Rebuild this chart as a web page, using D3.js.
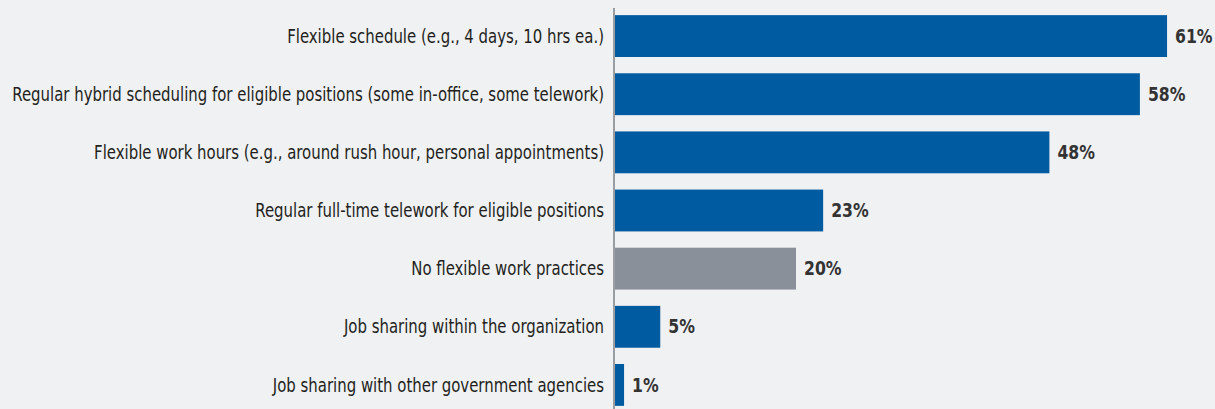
<!DOCTYPE html>
<html>
<head>
<meta charset="utf-8">
<script src="https://cdn.jsdelivr.net/npm/d3@7"></script>
<style>
  html, body { margin: 0; padding: 0; background: #f0f1f3; }
  svg { display: block; }
  .cat { font-family: "DejaVu Sans Condensed", "Liberation Sans Narrow", sans-serif; font-size: 19px; fill: #231f20; }
  .val { font-family: "DejaVu Sans Condensed", "Liberation Sans Narrow", sans-serif; font-size: 19px; font-weight: bold; fill: #333; }
</style>
</head>
<body>
<div id="chart"></div>
<script>
var categories = [
  "Flexible schedule (e.g., 4 days, 10 hrs ea.)",
  "Regular hybrid scheduling for eligible positions (some in-office, some telework)",
  "Flexible work hours (e.g., around rush hour, personal appointments)",
  "Regular full-time telework for eligible positions",
  "No flexible work practices",
  "Job sharing within the organization",
  "Job sharing with other government agencies"
];
var percents = [61, 58, 48, 23, 20, 5, 1];
var colors = ["#005ba1", "#005ba1", "#005ba1", "#005ba1", "#8a9099", "#005ba1", "#005ba1"];

var W = 1215, H = 409;
var axisX = 615;

var data = categories.map(function(c, i) {
  return {cat: c, pct: percents[i], color: colors[i]};
});

var x = d3.scaleLinear()
    .domain([0, 100])
    .range([axisX, axisX + 905]);

var y = d3.scaleBand()
    .domain(categories)
    .range([7, 414])
    .paddingInner(0.28)
    .paddingOuter(0.14);

var svg = d3.select("#chart").append("svg")
    .attr("width", W)
    .attr("height", H);

svg.append("rect")
    .attr("width", W).attr("height", H)
    .attr("fill", "#f0f1f3");

// bars
svg.selectAll(".bar")
    .data(data)
    .enter().append("rect")
    .attr("class", "bar")
    .attr("x", x(0))
    .attr("y", function(d) { return y(d.cat); })
    .attr("width", function(d) { return x(d.pct) - x(0); })
    .attr("height", y.bandwidth())
    .attr("fill", function(d) { return d.color; });

// category labels (narrowed to mimic a condensed face)
var cats = svg.selectAll("text.cat")
    .data(data)
    .enter().append("text")
    .attr("class", "cat")
    .attr("dy", "0.35em")
    .attr("text-anchor", "end")
    .text(function(d) { return d.cat; });

var widest = d3.max(cats.nodes(), function(n) { return n.getComputedTextLength(); });
var sx = 592 / widest;

cats.attr("transform", function(d) {
  return "translate(" + (axisX - 11) + "," + (y(d.cat) + y.bandwidth() / 2) + ") scale(" + sx + ",1)";
});

// value labels
svg.selectAll("text.val")
    .data(data)
    .enter().append("text")
    .attr("class", "val")
    .attr("dy", "0.35em")
    .attr("transform", function(d) {
      return "translate(" + (x(d.pct) + 8) + "," + (y(d.cat) + y.bandwidth() / 2) + ") scale(" + (sx * 1.05) + ",1)";
    })
    .text(function(d) { return d.pct + "%"; });

// vertical axis line
svg.append("line")
    .attr("x1", axisX - 1).attr("x2", axisX - 1)
    .attr("y1", 8).attr("y2", H)
    .attr("stroke", "#9a9ea3")
    .attr("stroke-width", 2);
</script>
</body>
</html>
